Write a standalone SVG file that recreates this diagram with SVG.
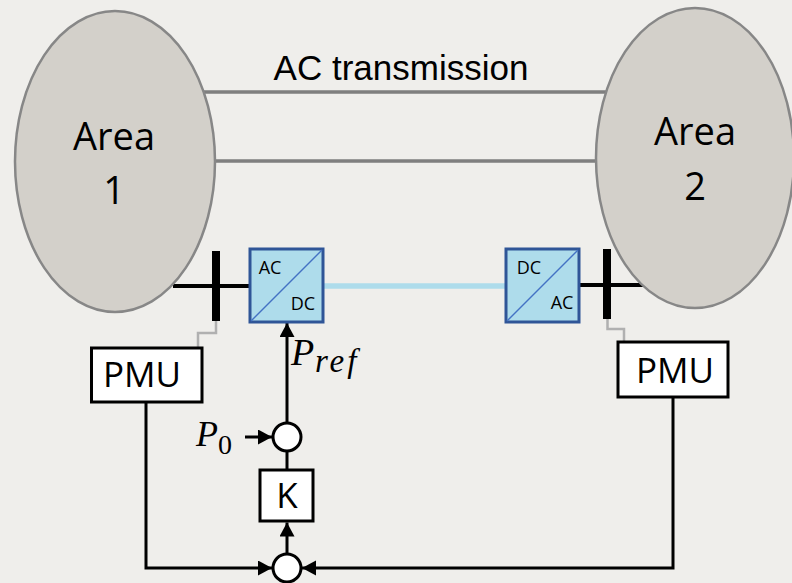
<svg xmlns="http://www.w3.org/2000/svg" width="792" height="583" viewBox="0 0 792 583">
<style>
text{font-family:"Open Sans","Noto Sans",sans-serif;fill:#000;text-anchor:middle}
.area{fill:#d3d0ca;stroke:#878787;stroke-width:2.5}
.box{fill:#fff;stroke:#000;stroke-width:3}
.sum{fill:#fff;stroke:#000;stroke-width:3}
.conv{fill:#aedceb;stroke:#2f5597;stroke-width:3}
.diag{stroke:#4472c4;stroke-width:1.4;fill:none}
.ln{stroke:#000;stroke-width:3;fill:none}
.ac{stroke:#7f7f7f;stroke-width:3.5;fill:none}
.bus{stroke:#000;stroke-width:4;fill:none}
.gr{stroke:#b0b0b0;stroke-width:2.5;fill:none}
.math{font-family:"Liberation Serif","DejaVu Serif",serif;font-style:italic;text-anchor:start}
</style>
<defs>
<marker id="a" markerUnits="userSpaceOnUse" markerWidth="16" markerHeight="16" refX="14" refY="7.5" orient="auto"><path d="M0 0L14 7.5L0 15Z" fill="#000"/></marker>
</defs>
<rect width="792" height="583" fill="#efeeeb"/>
<g id="connectors">
<path class="ac" d="M200 92H610M210 161H600"/>
<path d="M322 286H506" stroke="#aedceb" stroke-width="5.5" fill="none"/>
<path class="bus" d="M173 286H250M580 285H645"/>
<path d="M216 251V321M607 249V319" stroke="#000" stroke-width="8" fill="none"/>
<path class="gr" d="M216 321V333H198V347M607.5 319V329H624V342"/>
<path class="ln" d="M287 424V323" marker-end="url(#a)"/>
<path class="ln" d="M245 437H272" marker-end="url(#a)"/>
<path class="ln" d="M287 451V470M287 554V522.5" marker-end="url(#a)"/>
<path class="ln" d="M146 402V568H272" marker-end="url(#a)"/>
<path class="ln" d="M673 397V568H302" marker-end="url(#a)"/>
</g>
<g id="area1"><ellipse class="area" cx="115" cy="161.5" rx="100" ry="150.5"/><text x="114" y="150" font-size="38">Area</text><text x="114" y="204" font-size="38">1</text></g>
<g id="area2"><ellipse class="area" cx="695" cy="158" rx="99" ry="150"/><text x="695" y="145" font-size="38">Area</text><text x="695" y="200" font-size="38">2</text></g>
<g id="ac-label"><text x="401" y="80" font-size="35" style="font-family:'Liberation Sans',Arial,sans-serif">AC transmission</text></g>
<g id="conv1"><rect class="conv" x="250" y="249" width="73" height="73"/><path class="diag" d="M251 321L322 250"/><text x="270" y="274" font-size="18">AC</text><text x="303" y="310" font-size="18">DC</text></g>
<g id="conv2"><rect class="conv" x="506" y="249" width="73" height="73"/><path class="diag" d="M507 321L578 250"/><text x="529" y="274" font-size="18">DC</text><text x="562" y="309" font-size="18">AC</text></g>
<g id="pmu1"><rect class="box" x="91.5" y="348" width="110.5" height="54"/><text x="142" y="387" font-size="35">PMU</text></g>
<g id="pmu2"><rect class="box" x="618" y="342" width="110" height="55"/><text x="675" y="383" font-size="35">PMU</text></g>
<g id="pref"><text class="math" x="291" y="365" font-size="38">P</text><text class="math" x="315" y="372" font-size="33" letter-spacing="3">ref</text></g>
<g id="p0"><text class="math" x="196" y="446" font-size="36">P</text><text x="225" y="454" font-size="28" style="font-family:'Liberation Serif',serif">0</text></g>
<g id="sum1"><circle class="sum" cx="287" cy="437" r="14"/></g>
<g id="k"><rect class="box" x="260" y="470" width="53" height="51"/><text x="287" y="508" font-size="35">K</text></g>
<g id="sum2"><circle class="sum" cx="287" cy="568" r="14"/></g>
</svg>
